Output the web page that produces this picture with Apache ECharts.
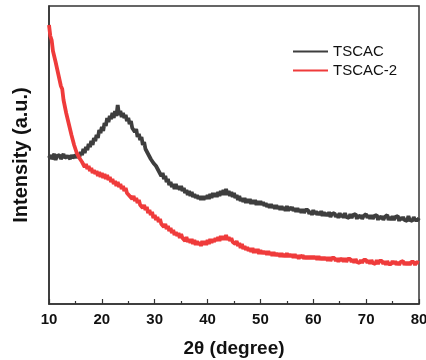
<!DOCTYPE html>
<html><head><meta charset="utf-8">
<script src="https://cdn.jsdelivr.net/npm/echarts@6/dist/echarts.min.js"></script>
<style>html,body{margin:0;padding:0;background:#fff}#c{width:426px;height:360px}</style>
</head><body><div id="c"></div>
<script>
// 2θ sampling: start 10°, step 0.25°, to 80°
const angleStart = 10;
const angleStep = 0.25;
const seriesNames = ['TSCAC', 'TSCAC-2'];
const xTicks = [10, 20, 30, 40, 50, 60, 70, 80];
// Intensity (a.u.), one row per 5°
const tscac = [
146,149,145,147,150,144,148,146,149,145,147,150,146,144,148,147,145,149,146,148,
149,146,150,147,152,149,155,151,157,154,160,157,163,159,166,163,169,166,174,171,
177,173,181,178,186,182,188,185,191,186,193,188,199,189,193,187,191,186,189,183,
186,180,183,176,178,172,175,167,170,164,167,159,162,155,157,150,152,145,147,141,
143,138,140,133,134,128,131,125,128,122,125,119,122,117,120,115,120,115,118,114,
118,113,116,111,114,109,113,108,112,107,110,106,109,105,108,104,108,104,108,105,
109,105,110,106,111,107,111,107,112,108,113,109,114,109,115,109,113,108,112,107,
111,106,109,104,108,103,106,102,106,101,105,101,105,100,104,100,104,99,103,99,
103,99,102,98,101,97,100,96,100,96,99,95,99,95,98,94,98,94,97,93,
98,93,97,94,97,93,96,92,96,92,95,91,95,91,94,92,94,90,93,89,
94,90,93,89,92,89,93,88,92,88,91,88,92,87,90,88,91,87,90,86,
91,87,90,86,91,87,89,86,90,86,89,87,90,85,89,86,89,85,88,86,
90,86,89,85,89,85,88,86,89,84,88,85,88,84,87,85,89,84,87,84,
88,84,87,85,88,83,87,84,87,84,86,83,88,84,86,83,87,84,86,84,
86
];
const tscac2 = [
279,268,264,253,252,242,241,230,230,218,215,204,203,191,190,180,179,169,169,159,
159,151,152,146,148,142,143,137,140,135,138,133,136,131,134,130,133,128,132,127,
131,126,130,125,129,124,127,122,125,120,123,118,122,117,120,115,118,113,116,111,
113,108,110,105,108,103,106,101,104,99,101,96,99,94,97,91,94,89,92,86,
89,84,87,82,85,80,82,77,80,75,78,73,76,71,74,69,72,68,71,66,
70,66,68,63,67,62,65,61,65,60,64,59,63,59,62,58,63,59,63,59,
64,60,65,61,65,62,66,63,67,63,68,64,68,64,69,64,67,63,66,62,
64,60,63,58,61,56,60,55,58,54,57,53,56,52,56,51,55,51,55,50,
54,50,53,50,53,49,53,49,52,48,52,48,51,48,51,47,51,47,50,47,
51,47,50,47,50,46,50,46,49,45,49,46,49,45,48,45,48,45,48,45,
48,45,48,44,48,44,47,44,47,44,47,43,47,43,46,44,46,43,46,42,
46,43,46,42,46,42,45,43,45,42,45,41,45,42,44,41,44,41,44,42,
44,41,44,40,44,41,43,40,44,40,43,41,43,40,43,39,43,40,42,40,
43,40,43,39,42,39,42,40,43,39,42,39,42,39,42,40,42,39,42,40,
41
];
function pairs(vals){ return vals.map((v,i)=>[angleStart + angleStep*i, v]); }
const chart = echarts.init(document.getElementById('c'), null, {renderer:'canvas'});
const axisColor = '#333';
const font = 'Liberation Sans, Arial, sans-serif';
chart.setOption({
  animation: false,
  backgroundColor: '#fff',
  grid: {left: 49, top: 6, right: 7, bottom: 56, show: true, borderColor: axisColor, borderWidth: 1.5, outerBoundsMode: 'none'},
  legend: {
    orient: 'vertical', left: 288, top: 39, itemWidth: 35, itemHeight: 2, itemGap: 4,
    icon: 'rect', data: seriesNames,
    textStyle: {fontFamily: font, fontSize: 15, color: '#111'}
  },
  xAxis: {
    type: 'value', min: xTicks[0], max: xTicks[xTicks.length-1], interval: 10,
    name: '2θ (degree)', nameLocation: 'middle', nameGap: 35,
    nameTextStyle: {fontFamily: font, fontWeight: 'bold', fontSize: 19, color: '#111'},
    axisLine: {lineStyle: {color: axisColor, width: 1.5}},
    axisTick: {inside: true, length: 5, lineStyle: {color: axisColor, width: 1.2}},
    minorTick: {show: true, splitNumber: 2, length: 3, lineStyle: {color: axisColor, width: 1.2}},
    axisLabel: {fontFamily: font, fontWeight: 'bold', fontSize: 15, color: '#111', margin: 8},
    splitLine: {show: false}
  },
  yAxis: {
    type: 'value', min: 0, max: 298,
    name: 'Intensity (a.u.)', nameLocation: 'middle', nameGap: 18,
    nameTextStyle: {fontFamily: font, fontWeight: 'bold', fontSize: 20, color: '#111'},
    axisLine: {show: true, lineStyle: {color: axisColor, width: 1.5}},
    axisTick: {show: false}, axisLabel: {show: false}, splitLine: {show: false}
  },
  series: [
    {name: seriesNames[0], type: 'line', data: pairs(tscac), showSymbol: false, symbol: 'none',
     lineStyle: {color: '#3e3e3e', width: 3.8}, itemStyle: {color: '#3e3e3e'}},
    {name: seriesNames[1], type: 'line', data: pairs(tscac2), showSymbol: false, symbol: 'none',
     lineStyle: {color: '#ef3b3b', width: 3.8}, itemStyle: {color: '#ef3b3b'}}
  ]
});
</script></body></html>
